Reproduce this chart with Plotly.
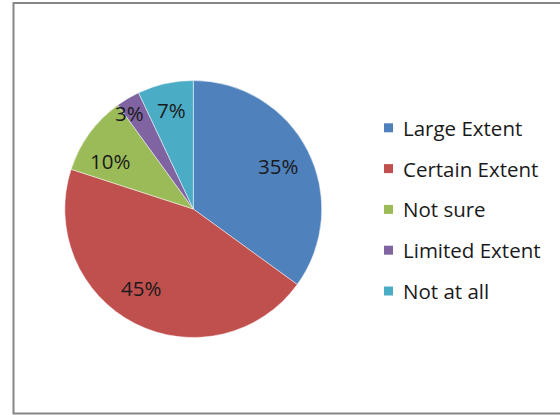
import math
import plotly.graph_objects as go

# Survey responses (share of respondents, %)
categories = ["Large Extent", "Certain Extent", "Not sure", "Limited Extent", "Not at all"]
shares = [35, 45, 10, 3, 7]
colors = ["#4F81BD", "#C0504D", "#9BBB59", "#8064A2", "#4BACC6"]

W, H = 560, 415
FONT = "'Open Sans', sans-serif"

# Pie placement in pixels
cx, cy, r = 193.3, 209.0, 128.5
# label placement: radial fraction of radius and angular nudge (degrees) per slice
label_r = [0.74, 0.74, 0.75, 0.90, 0.79]
label_dang = [0.0, 6.5, -6.0, -3.0, 0.0]


def px(x):
    return x / W


def py(y):
    return 1 - y / H


fig = go.Figure(
    go.Pie(
        labels=categories,
        values=shares,
        sort=False,
        direction="clockwise",
        rotation=0,
        marker=dict(colors=colors, line=dict(color="rgba(255,255,255,0.6)", width=0.8)),
        textinfo="none",
        hoverinfo="label+percent",
        showlegend=False,
        domain=dict(x=[px(cx - r), px(cx + r)], y=[py(cy + r), py(cy - r)]),
    )
)

annotations = []
shapes = []

# Percentage labels placed around each slice's mid-angle
total = sum(shares)
cum = 0
for v, f, da in zip(shares, label_r, label_dang):
    mid = (cum + v / 2) / total * 2 * math.pi + math.radians(da)
    cum += v
    lx = cx + f * r * math.sin(mid)
    ly = cy - f * r * math.cos(mid)
    annotations.append(dict(
        x=px(lx), y=py(ly), xref="paper", yref="paper",
        text=f"{round(v / total * 100)}%", showarrow=False,
        xanchor="center", yanchor="middle",
        font=dict(family=FONT, size=20.5, color="#1a1a1a"),
    ))

# Legend: square swatch plus label for each category
leg_x, leg_y0, leg_step, sw = 384.0, 127.8, 40.8, 9.0
for i, (name, c) in enumerate(zip(categories, colors)):
    yc = leg_y0 + i * leg_step
    shapes.append(dict(
        type="rect", xref="paper", yref="paper",
        x0=px(leg_x), x1=px(leg_x + sw), y0=py(yc + sw / 2), y1=py(yc - sw / 2),
        fillcolor=c, line=dict(width=0),
    ))
    annotations.append(dict(
        x=px(leg_x + 17.0), y=py(yc), xref="paper", yref="paper",
        text=name, showarrow=False, xanchor="left", yanchor="middle",
        font=dict(family=FONT, size=20.5, color="#1a1a1a"),
    ))

# Chart frame (left, top and bottom edges visible; right runs past the canvas)
shapes.append(dict(
    type="rect", xref="paper", yref="paper",
    x0=px(13.5), x1=px(W + 5), y0=py(413.5), y1=py(3),
    line=dict(color="#868686", width=2), fillcolor="rgba(0,0,0,0)",
))

fig.update_layout(
    width=W, height=H,
    margin=dict(l=0, r=0, t=0, b=0),
    paper_bgcolor="white",
    plot_bgcolor="white",
    annotations=annotations,
    shapes=shapes,
)

fig.write_html("out.html")
